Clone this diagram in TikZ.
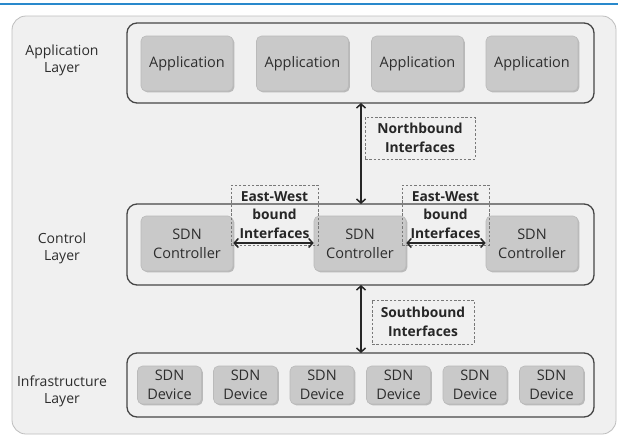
\documentclass[tikz,border=0pt]{standalone}
\usepackage{fontspec}
\setmainfont{Open Sans}
\usetikzlibrary{arrows.meta,shadows}
\definecolor{topblue}{RGB}{41,137,204}
\definecolor{panelfill}{RGB}{240,240,240}
\definecolor{panelline}{RGB}{190,190,190}
\definecolor{boxfill}{RGB}{201,201,201}
\definecolor{boxline}{RGB}{186,186,186}
\definecolor{layerline}{RGB}{70,70,70}
\definecolor{txt}{RGB}{45,45,45}
\definecolor{dashcol}{RGB}{120,120,120}
\tikzset{
  layerbox/.style={draw=layerline,line width=1.3pt,rounded corners=10pt,fill=panelfill},
  compbox/.style={draw=boxline,line width=0.6pt,fill=boxfill,rounded corners=5pt,
    drop shadow={shadow xshift=1.3pt,shadow yshift=-1.3pt,fill=black!45,opacity=0.55},
    text=txt,align=center,inner sep=0pt,
    font=\fontsize{14.5}{19}\selectfont},
  appbox/.style={compbox,minimum width=92pt,minimum height=55pt},
  ctrlbox/.style={compbox,minimum width=92pt,minimum height=55pt},
  devbox/.style={compbox,minimum width=64pt,minimum height=38pt},
  iflabel/.style={draw=dashcol,dash pattern=on 2.5pt off 1.8pt,line width=0.8pt,
    align=center,inner sep=0pt,text=black!85,
    font=\bfseries\fontsize{13.8}{18.5}\selectfont},
  layerlabel/.style={align=center,text=txt,font=\fontsize{14}{17}\selectfont},
  biarrow/.style={draw=black!85,line width=1.8pt,
    {Straight Barb[length=4pt,width=9pt,line width=1.5pt]}-{Straight Barb[length=4pt,width=9pt,line width=1.5pt]}}
}
\begin{document}
\begin{tikzpicture}[x=1pt,y=-1pt]
\useasboundingbox (0,0) rectangle (618,437);
\fill[white] (0,0) rectangle (618,437);
\draw[topblue,line width=1.6pt] (0,4) -- (618,4);
\draw[draw=panelline,fill=panelfill,line width=0.8pt,rounded corners=14pt] (12,16) rectangle (616,434);

% layers
\draw[layerbox] (127,23) rectangle (594,103);
\draw[layerbox] (127,204) rectangle (594,285);
\draw[layerbox] (127,353) rectangle (594,417);

\node[layerlabel] (lapp) at (62,60) {Application\\Layer};
\node[layerlabel] (lctl) at (62,248) {Control\\Layer};
\node[layerlabel] (linf) at (62,391) {Infrastructure\\Layer};

% applications
\node[appbox] (a1) at (187,63.5) {Application};
\node[appbox] (a2) at (302.5,63.5) {Application};
\node[appbox] (a3) at (417.5,63.5) {Application};
\node[appbox] (a4) at (532,63.5) {Application};

% controllers
\node[ctrlbox] (c1) at (187,243.5) {SDN\\Controller};
\node[ctrlbox] (c2) at (360,243.5) {SDN\\Controller};
\node[ctrlbox] (c3) at (532,243.5) {SDN\\Controller};

% devices
\node[devbox] (d1) at (169.5,385) {SDN\\Device};
\node[devbox] (d2) at (245.5,385) {SDN\\Device};
\node[devbox] (d3) at (322,385) {SDN\\Device};
\node[devbox] (d4) at (398.5,385) {SDN\\Device};
\node[devbox] (d5) at (475,385) {SDN\\Device};
\node[devbox] (d6) at (551.5,385) {SDN\\Device};

% interface labels
\node[iflabel,minimum width=110pt,minimum height=42pt] (nb) at (420,138) {Northbound\\Interfaces};
\node[iflabel,minimum width=87pt,minimum height=60pt] (ew1) at (274.5,215) {East-West\\bound\\Interfaces};
\node[iflabel,minimum width=87pt,minimum height=60pt] (ew2) at (445.5,215) {East-West\\bound\\Interfaces};
\node[iflabel,minimum width=102pt,minimum height=44pt] (sb) at (423,322) {Southbound\\Interfaces};

% connector anchors on layer boxes
\coordinate (appb) at (361,103);
\coordinate (ctlt) at (361,204);
\coordinate (ctlb) at (361,285);
\coordinate (inft) at (361,353);

\draw[biarrow] (appb) -- (ctlt);
\draw[biarrow] (ctlb) -- (inft);
\draw[biarrow] ([yshift=0.5pt]c1.east) -- ([yshift=0.5pt]c2.west);
\draw[biarrow] ([yshift=0.5pt]c2.east) -- ([yshift=0.5pt]c3.west);
\end{tikzpicture}
\end{document}
